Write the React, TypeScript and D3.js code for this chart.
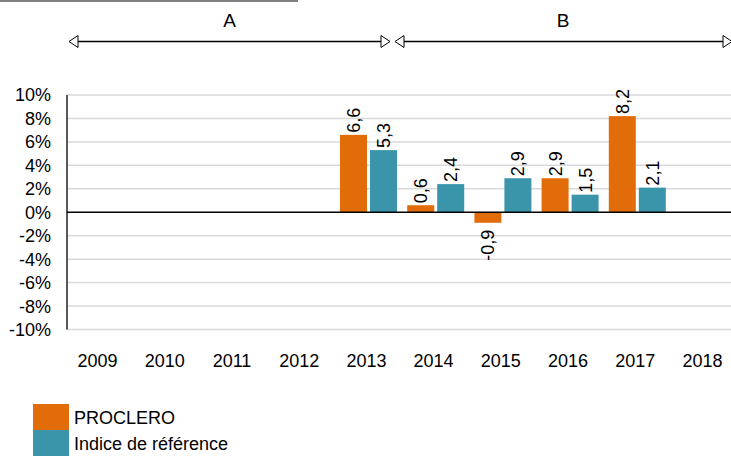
import * as d3 from "d3";

const years = ["2009", "2010", "2011", "2012", "2013", "2014", "2015", "2016", "2017", "2018"];
const proclero: (number | null)[] = [null, null, null, null, 6.6, 0.6, -0.9, 2.9, 8.2, null];
const indice: (number | null)[] = [null, null, null, null, 5.3, 2.4, 2.9, 1.5, 2.1, null];
const yTicks = [-10, -8, -6, -4, -2, 0, 2, 4, 6, 8, 10];
const seriesNames = ["PROCLERO", "Indice de référence"];
const colors = ["#E36C0A", "#3A95AB"];
const periods = [
  {label: "A", x0: 69, x1: 390},
  {label: "B", x0: 395, x1: 732},
];

const W = 731;
const H = 457;
const font = "'Liberation Sans', Arial, sans-serif";
const fs = 18;

const App = () => {
  const x = d3.scaleBand().domain(years).range([67, 739]);
  const y = d3.scaleLinear().domain([-10, 10]).range([329.5, 95]);
  const inner = d3.scaleBand().domain(["0", "1"]).range([4.2, 61.2]).paddingInner(0.1);

  const series = [proclero, indice];

  // flèche ouverte (triangle vide)
  const head = (tipX: number, cy: number, dir: number) =>
    `M${tipX},${cy} L${tipX - dir * 9},${cy - 6} L${tipX - dir * 9},${cy + 6} Z`;

  return (
    <svg width={W} height={H} style={{position: "absolute", left: 0, top: 0}}>
      <rect x={0} y={0} width={298} height={2} fill="#808080"/>

      {periods.map(p => {
        const cy = 41.5;
        return (
          <g key={p.label}>
            <text x={p.label === "A" ? 229.5 : 563} y={27} textAnchor="middle" fontFamily={font} fontSize={19}>{p.label}</text>
            <line x1={p.x0 + 9} x2={p.x1 - 9} y1={cy} y2={cy} stroke="#000" strokeWidth={1.3}/>
            <path d={head(p.x0, cy, -1)} fill="#fff" stroke="#000" strokeWidth={1}/>
            <path d={head(p.x1, cy, 1)} fill="#fff" stroke="#000" strokeWidth={1}/>
          </g>
        );
      })}

      {yTicks.map(t => (
        <g key={t}>
          {t !== 0 && <line x1={67} x2={731} y1={y(t)} y2={y(t)} stroke="#D9D9D9" strokeWidth={1.5}/>}
          <text x={51} y={y(t)} dy="0.36em" textAnchor="end" fontFamily={font} fontSize={fs}>{t}%</text>
        </g>
      ))}

      {series.map((vals, si) => vals.map((v, i) => {
        if (v === null) return null;
        const bx = (x(years[i]) ?? 0) + (inner(String(si)) ?? 0);
        const bw = inner.bandwidth();
        const top = y(Math.max(0, v));
        const h = Math.abs(y(v) - y(0));
        const cx = bx + bw / 2;
        const label = String(v).replace(".", ",");
        const ly = v >= 0 ? y(v) - 2 : y(v) + 7;
        return (
          <g key={`${si}-${i}`}>
            <rect x={bx} y={top} width={bw} height={h} fill={colors[si]}/>
            <text transform={`translate(${cx + 6.5},${ly}) rotate(-90)`} textAnchor={v >= 0 ? "start" : "end"}
                  fontFamily={font} fontSize={fs}>{label}</text>
          </g>
        );
      }))}

      <line x1={67} x2={731} y1={y(0)} y2={y(0)} stroke="#000" strokeWidth={1.3}/>
      <line x1={67} x2={67} y1={y(10)} y2={y(-10)} stroke="#000" strokeWidth={1.3}/>

      {years.map(yr => (
        <text key={yr} x={(x(yr) ?? 0) + x.bandwidth() / 2 - 3} y={367} textAnchor="middle" fontFamily={font} fontSize={fs}>{yr}</text>
      ))}

      {seriesNames.map((n, i) => (
        <g key={n}>
          <rect x={33} y={404 + i * 26} width={36} height={26} fill={colors[i]}/>
          <text x={74} y={424 + i * 26} fontFamily={font} fontSize={fs}>{n}</text>
        </g>
      ))}
    </svg>
  );
};

export default App;
